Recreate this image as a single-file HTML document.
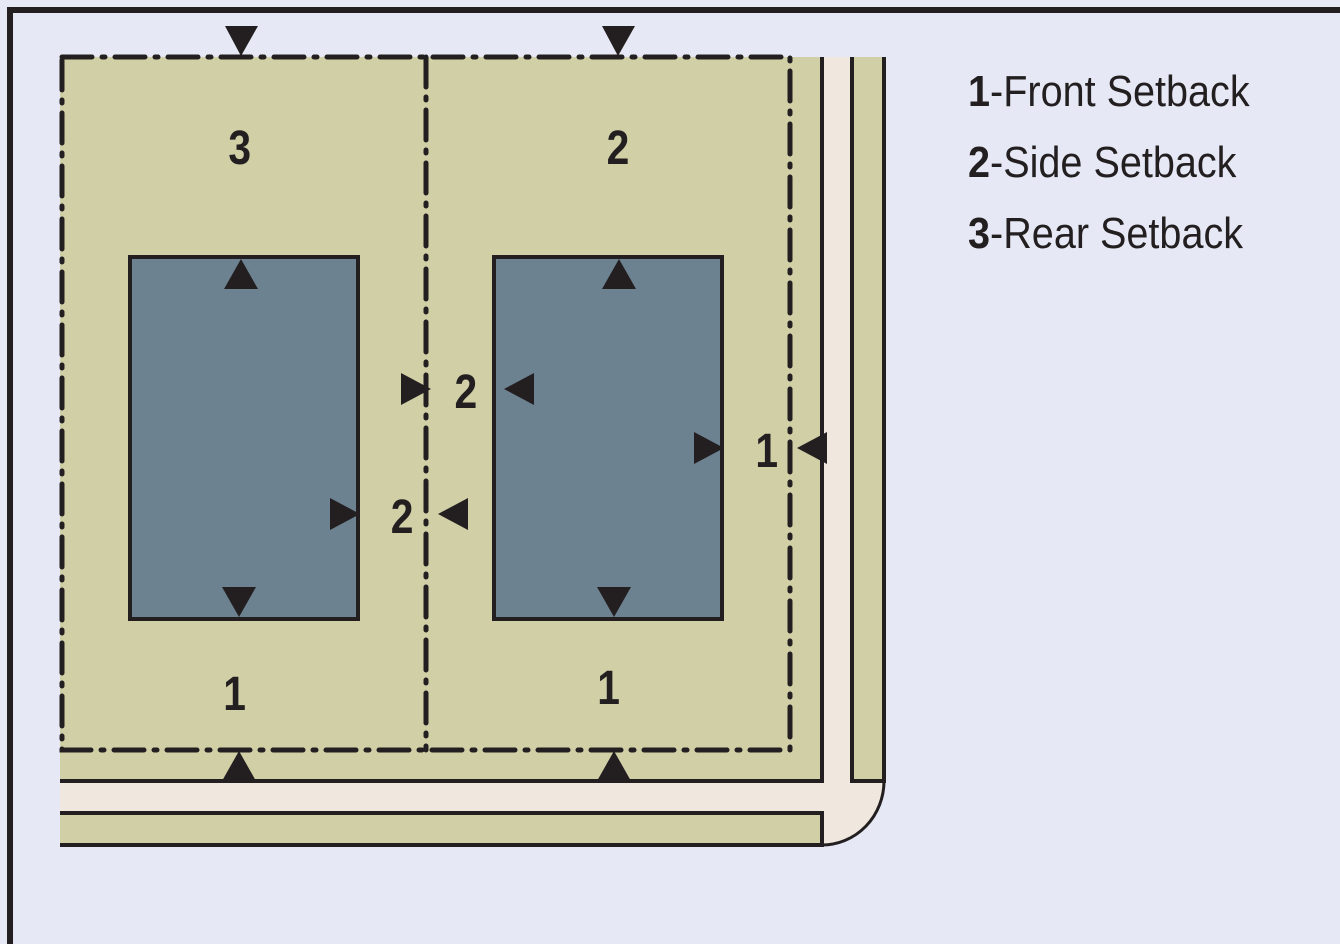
<!DOCTYPE html>
<html><head><meta charset="utf-8"><style>
html,body{margin:0;padding:0;background:#e6e9f5;}
svg{display:block}
</style></head><body>
<svg width="1340" height="944" viewBox="0 0 1340 944" xmlns="http://www.w3.org/2000/svg">
<rect width="1340" height="944" fill="#e6e9f5"/>
<path d="M10 944 V10 H1340" fill="none" stroke="#231f20" stroke-width="6"/>
<path d="M822 57 H884 V781 A62 64 0 0 1 822 845 H60 V781 H822 Z" fill="#f0e8de"/>
<path d="M884 781 A62 64 0 0 1 822 845" fill="none" stroke="#231f20" stroke-width="3"/>
<rect x="60" y="57" width="762" height="724" fill="#d0cfa6"/>
<path d="M60 781 H822 V57" fill="none" stroke="#231f20" stroke-width="4"/>
<rect x="852" y="57" width="32" height="724" fill="#d0cfa6"/>
<path d="M852 57 V781 H884 V57" fill="none" stroke="#231f20" stroke-width="4"/>
<rect x="60" y="813" width="762" height="32" fill="#d0cfa6"/>
<path d="M60 813 H822 V845 H60" fill="none" stroke="#231f20" stroke-width="4"/>
<g fill="none" stroke="#231f20" stroke-width="5" stroke-dasharray="30 10 3 10" stroke-linecap="round">
<path d="M62 57 H790 V750 H62 Z"/>
<path d="M426 57 V750"/>
</g>
<rect x="130" y="257" width="228" height="362" fill="#6d8291" stroke="#231f20" stroke-width="4"/>
<rect x="494" y="257" width="228" height="362" fill="#6d8291" stroke="#231f20" stroke-width="4"/>
<g fill="#231f20">
<path d="M225 26 H258 L241 56 Z"/>
<path d="M602 26 H635 L618 56 Z"/>
<path d="M241 259 L258 289 H224 Z"/>
<path d="M619 259 L636 289 H602 Z"/>
<path d="M222 587 H256 L239 617 Z"/>
<path d="M597 587 H631 L614 617 Z"/>
<path d="M239 751 L256 781 H222 Z"/>
<path d="M614 751 L631 781 H597 Z"/>
<path d="M401 373 L431 389 L401 405 Z"/>
<path d="M534 373 L504 389 L534 405 Z"/>
<path d="M330 498 L360 514 L330 530 Z"/>
<path d="M468 498 L438 514 L468 530 Z"/>
<path d="M694 432 L724 448 L694 464 Z"/>
<path d="M827 432 L797 448 L827 464 Z"/>
</g>
<g font-family="Liberation Sans, sans-serif" font-weight="bold" font-size="48" fill="#231f20" text-anchor="middle">
<text x="240" y="164" transform="scale(0.85,1) translate(42,0)">3</text>
<text x="618" y="164" transform="scale(0.85,1) translate(109,0)">2</text>
<text x="466" y="408" transform="scale(0.85,1) translate(82,0)">2</text>
<text x="402" y="533" transform="scale(0.85,1) translate(71,0)">2</text>
<text x="767" y="467" transform="scale(0.85,1) translate(135,0)">1</text>
<text x="235" y="710" transform="scale(0.85,1) translate(41,0)">1</text>
<text x="609" y="704" transform="scale(0.85,1) translate(107,0)">1</text>
</g>
<g font-family="Liberation Sans, sans-serif" font-size="44" fill="#231f20" transform="translate(968,0) scale(0.9,1)">
<text x="0" y="106"><tspan font-weight="bold">1</tspan>-Front Setback</text>
<text x="0" y="177"><tspan font-weight="bold">2</tspan>-Side Setback</text>
<text x="0" y="248"><tspan font-weight="bold">3</tspan>-Rear Setback</text>
</g>
</svg>
</body></html>
